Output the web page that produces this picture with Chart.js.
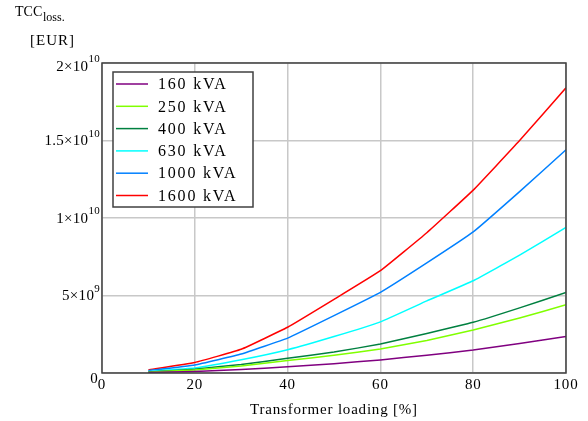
<!DOCTYPE html>
<html>
<head>
<meta charset="utf-8">
<script src="https://cdn.jsdelivr.net/npm/chart.js@4"></script>
<style>
  html, body { margin: 0; padding: 0; background: #fff; }
  canvas { display: block; }
</style>
</head>
<body>
<canvas id="tcc_chart" width="588" height="421"></canvas>
<script>
"use strict";

// transformer loading [%]
var loading = [10, 20, 30, 40, 50, 60, 70, 80, 90, 100];

// TCC loss [EUR] per transformer size
var kva160  = [0.03e9, 0.10e9, 0.22e9, 0.40e9, 0.60e9, 0.84e9, 1.15e9, 1.48e9, 1.90e9, 2.35e9];
var kva250  = [0.05e9, 0.20e9, 0.45e9, 0.80e9, 1.15e9, 1.55e9, 2.10e9, 2.77e9, 3.55e9, 4.40e9];
var kva400  = [0.06e9, 0.25e9, 0.55e9, 0.95e9, 1.35e9, 1.87e9, 2.55e9, 3.27e9, 4.20e9, 5.20e9];
var kva630  = [0.10e9, 0.32e9, 0.85e9, 1.50e9, 2.35e9, 3.30e9, 4.65e9, 5.95e9, 7.60e9, 9.40e9];
var kva1000 = [0.15e9, 0.52e9, 1.22e9, 2.25e9, 3.70e9, 5.20e9, 7.10e9, 9.10e9, 11.7e9, 14.4e9];
var kva1600 = [0.20e9, 0.68e9, 1.53e9, 2.95e9, 4.75e9, 6.60e9, 9.05e9, 11.8e9, 15.0e9, 18.4e9];

var seriesNames = ["160 kVA", "250 kVA", "400 kVA", "630 kVA", "1000 kVA", "1600 kVA"];
var seriesColors = ["#800080", "#80ff00", "#008040", "#00ffff", "#0080ff", "#ff0000"];

// y tick labels: mantissa part and exponent part
var yTickBase = ["0", "5\u00d710", "1\u00d710", "1.5\u00d710", "2\u00d710"];
var yTickExp  = ["", "9", "10", "10", "10"];

var serif = "'Liberation Serif', 'Times New Roman', serif";

function toPoints(values) {
    return values.map(function (v, i) { return { x: loading[i], y: v }; });
}

var allSeries = [kva160, kva250, kva400, kva630, kva1000, kva1600];
var datasets = allSeries.map(function (values, i) {
    return {
        label: seriesNames[i],
        data: toPoints(values),
        borderColor: seriesColors[i],
        borderWidth: 1.5,
        pointRadius: 0,
        tension: 0.1,
        fill: false
    };
});

// wide Mathcad-like lettering
var spacingPlugin = {
    id: "spacing",
    beforeLayout: function (chart) { chart.ctx.letterSpacing = "0.8px"; },
    beforeDraw: function (chart) { chart.ctx.letterSpacing = "0.8px"; }
};

// frame, legend box, y tick labels with exponents and y axis caption
var decorPlugin = {
    id: "decor",
    afterDraw: function (chart) {
        var ctx = chart.ctx;
        var a = chart.chartArea;
        ctx.save();
        ctx.strokeStyle = "#404040";
        ctx.lineWidth = 1.5;
        ctx.strokeRect(a.left, a.top, a.right - a.left, a.bottom - a.top);

        // legend
        var lx = 113, ly = 72, lw = 140, lh = 135;
        ctx.fillStyle = "#fff";
        ctx.fillRect(lx, ly, lw, lh);
        ctx.strokeRect(lx, ly, lw, lh);
        ctx.font = "16px " + serif;
        ctx.letterSpacing = "1.8px";
        ctx.textBaseline = "middle";
        ctx.textAlign = "left";
        for (var i = 0; i < seriesNames.length; i++) {
            var ry = 84 + i * 22.3;
            ctx.strokeStyle = seriesColors[i];
            ctx.lineWidth = 1.5;
            ctx.beginPath();
            ctx.moveTo(116, ry);
            ctx.lineTo(148, ry);
            ctx.stroke();
            ctx.fillStyle = "#000";
            ctx.fillText(seriesNames[i], 158, ry + 1);
        }

        // y tick labels
        var ys = chart.scales.y;
        ctx.letterSpacing = "0.3px";
        ctx.fillStyle = "#000";
        ys.ticks.forEach(function (t, k) {
            var py = ys.getPixelForValue(t.value);
            if (t.value === ys.max) py += 3;
            if (t.value === ys.min) py += 5;
            ctx.font = "11px " + serif;
            var expW = yTickExp[k] ? ctx.measureText(yTickExp[k]).width : 0;
            ctx.font = "15px " + serif;
            var baseW = ctx.measureText(yTickBase[k]).width;
            var right = yTickExp[k] ? 100 : 98;
            ctx.textBaseline = "middle";
            ctx.fillText(yTickBase[k], right - expW - baseW, py + 1);
            if (yTickExp[k]) {
                ctx.font = "11px " + serif;
                ctx.textBaseline = "alphabetic";
                ctx.fillText(yTickExp[k], right - expW, py - 4);
            }
        });

        // y axis caption
        ctx.letterSpacing = "0px";
        ctx.textBaseline = "alphabetic";
        ctx.font = "14px " + serif;
        ctx.fillText("TCC", 15, 16);
        ctx.font = "12px " + serif;
        ctx.fillText("loss.", 43, 21);
        ctx.font = "15px " + serif;
        ctx.letterSpacing = "1px";
        ctx.fillText("[EUR]", 30, 45);
        ctx.restore();
    }
};

var chartArea = document.getElementById("tcc_chart");
var tccChart = new Chart(chartArea, {
    type: "line",
    data: { datasets: datasets },
    plugins: [spacingPlugin, decorPlugin],
    options: {
        responsive: false,
        animation: false,
        devicePixelRatio: 1,
        layout: { padding: { left: 0, right: 22, top: 63, bottom: 0 } },
        plugins: {
            legend: { display: false },
            tooltip: { enabled: false }
        },
        scales: {
            x: {
                type: "linear",
                min: 0,
                max: 100,
                ticks: {
                    stepSize: 20,
                    color: "#000",
                    padding: 3,
                    maxRotation: 0,
                    font: { family: serif, size: 15 }
                },
                grid: { color: "#c8c8c8", lineWidth: 1.5, drawTicks: false },
                border: { display: false },
                title: {
                    display: true,
                    text: "Transformer loading [%]",
                    color: "#000",
                    font: { family: serif, size: 15 },
                    padding: { top: 4, bottom: 2 }
                },
                afterFit: function (scale) { scale.height = 48; }
            },
            y: {
                min: 0,
                max: 2e10,
                ticks: {
                    stepSize: 5e9,
                    display: false
                },
                grid: { color: "#c8c8c8", lineWidth: 1.5, drawTicks: false },
                border: { display: false },
                afterFit: function (scale) { scale.width = 102; }
            }
        }
    }
});
</script>
</body>
</html>
